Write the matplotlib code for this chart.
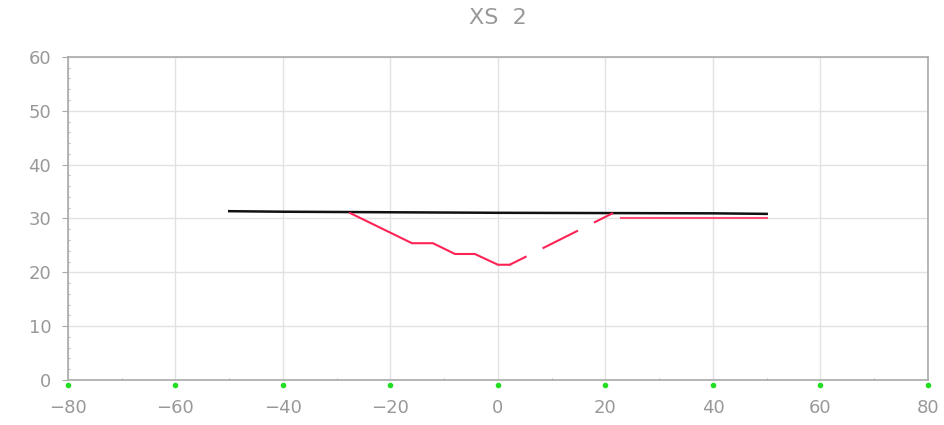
import matplotlib
matplotlib.use("Agg")
import matplotlib.pyplot as plt
from matplotlib.ticker import MultipleLocator

# water surface (black)
ws_x = [-50, -40, -20, 0, 20, 40, 50]
ws_y = [31.35, 31.25, 31.15, 31.05, 31.0, 30.95, 30.85]

# channel bed (red, solid part)
bed_x = [-27.5, -16, -12.1, -8, -4.3, 0, 2.2]
bed_y = [31.0, 25.4, 25.4, 23.4, 23.4, 21.4, 21.4]

# channel bed (red, dashed part)
bed_dash_x = [2.2, 21.4]
bed_dash_y = [21.4, 31.0]

# bank level (red, flat)
bank_x = [22.9, 50]
bank_y = [30.0, 30.0]

xticks = [-80, -60, -40, -20, 0, 20, 40, 60, 80]
yticks = [0, 10, 20, 30, 40, 50, 60]

GRAY = "#999999"
RED = "#ff2255"

fig = plt.figure(figsize=(9.44, 4.25), dpi=100)
ax = fig.add_axes([0.072, 0.106, 0.911, 0.760])

ax.plot(ws_x, ws_y, color="#111111", linewidth=1.8, zorder=3)
ax.plot(bed_x, bed_y, color=RED, linewidth=1.5, zorder=3)
ax.plot(bed_dash_x, bed_dash_y, color=RED, linewidth=1.5, zorder=3,
        linestyle=(10, (19, 8.6)))
ax.plot(bank_x, bank_y, color="#ff4d77", linewidth=1.5, zorder=3)

# green markers at x ticks, just below the axis
ax.plot(xticks, [-0.95] * len(xticks), linestyle="none", marker="o",
        markersize=3, color="#22dd22", clip_on=False, zorder=4)

ax.set_xlim(-80, 80)
ax.set_ylim(0, 60)
ax.set_xticks(xticks)
ax.set_yticks(yticks)
ax.xaxis.set_minor_locator(MultipleLocator(10))
ax.yaxis.set_minor_locator(MultipleLocator(2))
ax.grid(True, which="major", color="#e2e2e2", linewidth=1)
ax.set_axisbelow(True)

for s in ax.spines.values():
    s.set_color("#aaaaaa")
    s.set_linewidth(1.2)

ax.tick_params(axis="x", which="major", length=0, pad=14, labelsize=13, labelcolor=GRAY)
ax.tick_params(axis="y", which="major", length=4, pad=8, labelsize=13, labelcolor=GRAY, color="#aaaaaa")
ax.tick_params(which="minor", direction="in", length=1.5, color="#aaaaaa")

ax.set_title("XS  2", fontsize=16, color=GRAY, pad=24)

fig.savefig("out.png", dpi=100)
plt.close(fig)
